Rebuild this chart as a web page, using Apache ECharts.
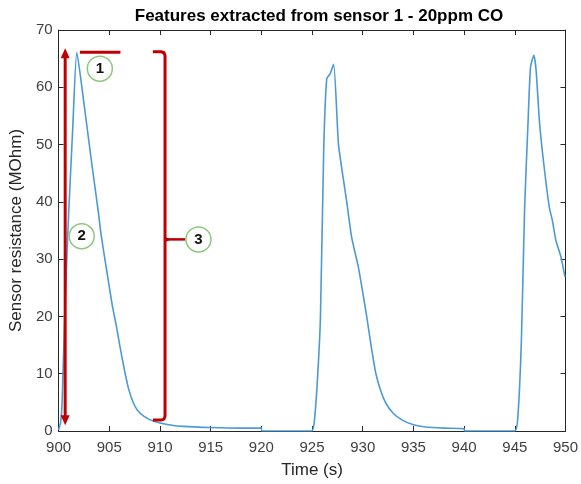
<!DOCTYPE html>
<html>
<head>
<meta charset="utf-8">
<script src="https://cdn.jsdelivr.net/npm/echarts@6/dist/echarts.min.js"></script>
<style>
  html, body { margin: 0; padding: 0; background: #fff; }
  #chart { width: 581px; height: 484px; }
</style>
</head>
<body>
<div id="chart"></div>
<script>
// Sensor 1 response to 20 ppm CO: three exposure cycles (time in s, resistance in MOhm)
const cycle1Time = [900.0, 900.2, 900.35, 900.62, 900.97, 901.4, 901.8, 902.4, 903.25, 903.9, 904.2, 904.7, 905.3, 905.7, 906.1, 906.5, 906.9, 907.4, 907.8, 908.4, 909.1, 910.0, 911.0, 912.3, 915.0, 918.0, 920.0];
const cycle1Res  = [0.2, 1.5, 5.0, 21.0, 37.0, 53.0, 66.1, 58.6, 47.0, 38.5, 34.2, 28.5, 21.9, 18.3, 14.3, 10.6, 7.4, 4.8, 3.6, 2.6, 1.9, 1.4, 1.05, 0.8, 0.6, 0.5, 0.5];
const cycle2Time = [920.05, 924.95, 925.2, 925.5, 925.83, 926.15, 926.45, 926.8, 927.13, 927.6, 928.0, 928.4, 928.9, 929.57, 930.0, 930.4, 930.85, 931.3, 931.8, 932.3, 933.0, 933.9, 935.0, 936.2, 938.0, 940.0];
const cycle2Res  = [0.0, 0.0, 1.3, 8.0, 19.9, 49.0, 61.5, 62.4, 64.0, 50.2, 45.0, 40.3, 33.9, 28.6, 24.2, 19.9, 14.6, 10.0, 6.9, 4.8, 3.1, 1.9, 1.1, 0.7, 0.5, 0.4];
const cycle3Time = [940.05, 945.0, 945.3, 945.65, 945.97, 946.3, 946.55, 946.88, 947.1, 947.45, 947.9, 948.4, 948.7, 949.05, 949.55, 949.95];
const cycle3Res  = [0.0, 0.0, 2.4, 15.8, 39.0, 53.6, 63.5, 65.6, 63.0, 53.6, 46.0, 39.1, 36.8, 33.3, 30.4, 26.9];

const timeTicks = { min: 900, max: 950, step: 5 };
const resTicks  = { min: 0, max: 70, step: 10 };

const titleText = 'Features extracted from sensor 1 - 20ppm CO';
const xName = 'Time (s)';
const yName = 'Sensor resistance (MOhm)';

const times = cycle1Time.concat(cycle2Time, cycle3Time);
const values = cycle1Res.concat(cycle2Res, cycle3Res);
const seriesData = times.map((t, i) => [t, values[i]]);

const FONT = '"Liberation Sans", Arial, Helvetica, sans-serif';
const AXIS_COLOR = '#262626';
const LABEL_COLOR = '#404040';
const RED = '#c00000';
const GREEN = '#8cc97a';

const chart = echarts.init(document.getElementById('chart'), null, { renderer: 'canvas' });

function axisBase(extra) {
  return Object.assign({
    type: 'value',
    axisLine: { show: true, onZero: false, lineStyle: { color: AXIS_COLOR, width: 1 } },
    axisTick: { show: true, inside: true, length: 5, lineStyle: { color: AXIS_COLOR } },
    splitLine: { show: false },
    axisLabel: { show: false }
  }, extra);
}

chart.setOption({
  animation: false,
  backgroundColor: '#ffffff',
  textStyle: { fontFamily: FONT },
  title: {
    text: titleText,
    left: 314,
    top: 3,
    textAlign: 'center',
    textStyle: { fontFamily: FONT, fontSize: 17, fontWeight: 'bold', color: '#000' }
  },
  grid: { left: 58, right: 11, top: 30, bottom: 53, containLabel: false },
  xAxis: [
    axisBase({
      position: 'bottom',
      min: timeTicks.min, max: timeTicks.max, interval: timeTicks.step,
      axisLabel: { show: true, color: LABEL_COLOR, fontSize: 15, margin: 9, fontFamily: FONT },
      name: xName, nameLocation: 'middle', nameGap: 31,
      nameTextStyle: { color: AXIS_COLOR, fontSize: 17, fontFamily: FONT }
    }),
    axisBase({ position: 'top', min: timeTicks.min, max: timeTicks.max, interval: timeTicks.step })
  ],
  yAxis: [
    axisBase({
      position: 'left',
      min: resTicks.min, max: resTicks.max, interval: resTicks.step,
      axisLabel: { show: true, color: LABEL_COLOR, fontSize: 15, margin: 6, fontFamily: FONT },
      name: yName, nameLocation: 'middle', nameGap: 30,
      nameTextStyle: { color: AXIS_COLOR, fontSize: 17, fontFamily: FONT }
    }),
    axisBase({ position: 'right', min: resTicks.min, max: resTicks.max, interval: resTicks.step })
  ],
  series: [{
    type: 'line',
    xAxisIndex: 0,
    yAxisIndex: 0,
    data: seriesData,
    showSymbol: false,
    symbol: 'none',
    smooth: 0.2,
    lineStyle: { color: '#4a9ad8', width: 1.6 },
    z: 3
  }]
});

// Feature annotations, anchored in data coordinates
const px = (t, v) => chart.convertToPixel({ gridIndex: 0 }, [t, v]);

const risePeak = 66.8, riseFoot = 1.0, riseTime = 900.65;   // feature 2: rise amplitude
const peakLevel = 66.1;                                     // feature 1: peak value
const bracketTop = 66.2, bracketBottom = 1.9, bracketX = 910.5, bracketLeft = 909.3, bracketMid = 33.45; // feature 3

const g = [];
const redLine = { stroke: RED, lineWidth: 3, lineCap: 'butt', lineJoin: 'round', fill: null };

// feature 2: double-headed vertical arrow
const aTop = px(riseTime, risePeak), aBot = px(riseTime, riseFoot);
g.push({ type: 'line', shape: { x1: aTop[0], y1: aTop[1] + 8, x2: aBot[0], y2: aBot[1] - 8 }, style: redLine, z: 10 });
g.push({ type: 'polygon', shape: { points: [[aTop[0], aTop[1]], [aTop[0] - 4.5, aTop[1] + 10], [aTop[0] + 4.5, aTop[1] + 10]] }, style: { fill: RED }, z: 10 });
g.push({ type: 'polygon', shape: { points: [[aBot[0], aBot[1]], [aBot[0] - 4.5, aBot[1] - 10], [aBot[0] + 4.5, aBot[1] - 10]] }, style: { fill: RED }, z: 10 });

// feature 1: peak level marker
const p1a = px(902.1, peakLevel), p1b = px(906.1, peakLevel);
g.push({ type: 'line', shape: { x1: p1a[0], y1: p1a[1], x2: p1b[0], y2: p1b[1] }, style: redLine, z: 10 });

// feature 3: bracket spanning the full response
const bTL = px(bracketLeft, bracketTop), bTR = px(bracketX, bracketTop);
const bBR = px(bracketX, bracketBottom), bBL = px(bracketLeft, bracketBottom);
const bM = px(bracketX, bracketMid), bMe = px(912.5, bracketMid);
const r = 4;
g.push({
  type: 'polyline',
  shape: { points: [
    [bTL[0], bTL[1]], [bTR[0] - r, bTR[1]], [bTR[0] - 1, bTR[1] + 1], [bTR[0], bTR[1] + r],
    [bBR[0], bBR[1] - r], [bBR[0] - 1, bBR[1] - 1], [bBR[0] - r, bBR[1]], [bBL[0], bBL[1]]
  ] },
  style: redLine, z: 10
});
g.push({ type: 'line', shape: { x1: bM[0], y1: bM[1], x2: bMe[0], y2: bMe[1] }, style: { stroke: RED, lineWidth: 2.5 }, z: 10 });
g.push({ type: 'polygon', shape: { points: [[bM[0] - 1, bM[1] - 3], [bM[0] + 6, bM[1]], [bM[0] - 1, bM[1] + 3]] }, style: { fill: RED }, z: 10 });

// numbered circles
const badges = [
  { label: '1', at: [904.07, 63.25] },
  { label: '2', at: [902.28, 34.0] },
  { label: '3', at: [913.8, 33.45] }
];
badges.forEach(b => {
  const c = px(b.at[0], b.at[1]);
  g.push({ type: 'circle', shape: { cx: c[0], cy: c[1], r: 12.5 }, style: { fill: '#fff', stroke: GREEN, lineWidth: 1.5 }, z: 11 });
  g.push({ type: 'text', x: c[0], y: c[1], style: { text: b.label, fill: '#111', font: 'bold 15px ' + FONT, align: 'center', verticalAlign: 'middle' }, z: 12 });
});

chart.setOption({ graphic: { elements: g } });
</script>
</body>
</html>
